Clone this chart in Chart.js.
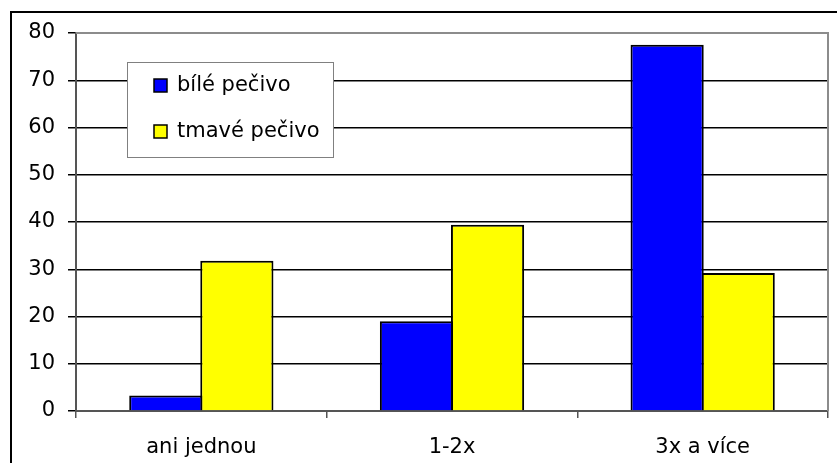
<!DOCTYPE html>
<html>
<head>
<meta charset="utf-8">
<script src="https://cdn.jsdelivr.net/npm/chart.js@4.4.1/dist/chart.umd.min.js"></script>
<style>
  html, body { margin: 0; padding: 0; background: #fff; }
  canvas { display: block; }
</style>
</head>
<body>
<canvas id="chart" width="837" height="463"></canvas>
<script>
// data
const categories = ['ani jednou', '1-2x', '3x a více']
const seriesNames = ['bílé pečivo', 'tmavé pečivo']
const bileValues = [3.3, 19.0, 77.5]
const tmaveValues = [31.8, 39.4, 29.2]
const yTicks = [0, 10, 20, 30, 40, 50, 60, 70, 80]

const FONT = { family: '"DejaVu Sans", sans-serif', size: 21 }

// ramecek kolem celeho obrazku (prava a spodni hrana jsou mimo obraz)
const framePlugin = {
    id: 'frame',
    beforeDraw(chart) {
        const ctx = chart.ctx
        ctx.save()
        ctx.fillStyle = '#fff'
        ctx.fillRect(0, 0, chart.width, chart.height)
        ctx.fillStyle = '#000'
        ctx.fillRect(10, 11, 2, chart.height)
        ctx.fillRect(10, 11, chart.width, 2)
        ctx.restore()
    },
    beforeDatasetsDraw(chart) {
        // sedy okraj oblasti grafu nahore a vpravo
        const { ctx, chartArea: a } = chart
        ctx.save()
        ctx.strokeStyle = '#8c8c8c'
        ctx.lineWidth = 2
        ctx.beginPath()
        ctx.moveTo(a.left, a.top)
        ctx.lineTo(a.right, a.top)
        ctx.lineTo(a.right, a.bottom)
        ctx.stroke()
        ctx.restore()
    }
}

// legenda v ramecku uvnitr grafu
const boxLegend = {
    id: 'boxLegend',
    afterDatasetsDraw(chart) {
        const ctx = chart.ctx
        ctx.save()
        ctx.fillStyle = '#fff'
        ctx.fillRect(127, 62, 206, 95)
        ctx.strokeStyle = '#808080'
        ctx.lineWidth = 1
        ctx.strokeRect(127.5, 62.5, 206, 95)
        ctx.font = FONT.size + 'px ' + FONT.family
        ctx.textBaseline = 'alphabetic'
        chart.data.datasets.forEach((ds, i) => {
            const y = 79 + i * 46
            ctx.fillStyle = ds.backgroundColor
            ctx.fillRect(154, y, 13, 13)
            ctx.strokeStyle = '#000'
            ctx.lineWidth = 1.5
            ctx.strokeRect(154, y, 13, 13)
            ctx.fillStyle = '#000'
            ctx.fillText(ds.label, 177, y + 12)
        })
        ctx.restore()
    }
}

new Chart(document.getElementById('chart'), {
    type: 'bar',
    data: {
        labels: categories,
        datasets: [
            {
                label: seriesNames[0],
                data: bileValues,
                backgroundColor: '#0000ff',
                borderColor: '#000',
                borderWidth: 2
            },
            {
                label: seriesNames[1],
                data: tmaveValues,
                backgroundColor: '#ffff00',
                borderColor: '#000',
                borderWidth: 2
            }
        ]
    },
    options: {
        responsive: false,
        animation: false,
        categoryPercentage: 0.567,
        barPercentage: 1.03,
        layout: { padding: { top: 33, right: 9, left: 0, bottom: 0 } },
        plugins: {
            legend: { display: false },
            tooltip: { enabled: false }
        },
        scales: {
            x: {
                grid: {
                    offset: true,
                    drawOnChartArea: false,
                    tickLength: 7,
                    tickColor: '#555',
                    lineWidth: 1.5
                },
                border: { color: '#555', width: 2 },
                ticks: { color: '#000', font: FONT, padding: 17 },
                afterFit(scale) { scale.height = 52 }
            },
            y: {
                min: 0,
                max: 80,
                afterBuildTicks(scale) {
                    scale.ticks = yTicks.map(v => ({ value: v }))
                },
                grid: {
                    color: ctx => ctx.tick && ctx.tick.value === 80 ? 'rgba(0,0,0,0)' : '#000',
                    tickColor: '#000',
                    tickLength: 8,
                    lineWidth: 1.5
                },
                border: { color: '#555', width: 2 },
                ticks: { color: '#000', font: FONT, padding: 13 },
                afterFit(scale) { scale.width = 76 }
            }
        }
    },
    plugins: [framePlugin, boxLegend]
})
</script>
</body>
</html>
